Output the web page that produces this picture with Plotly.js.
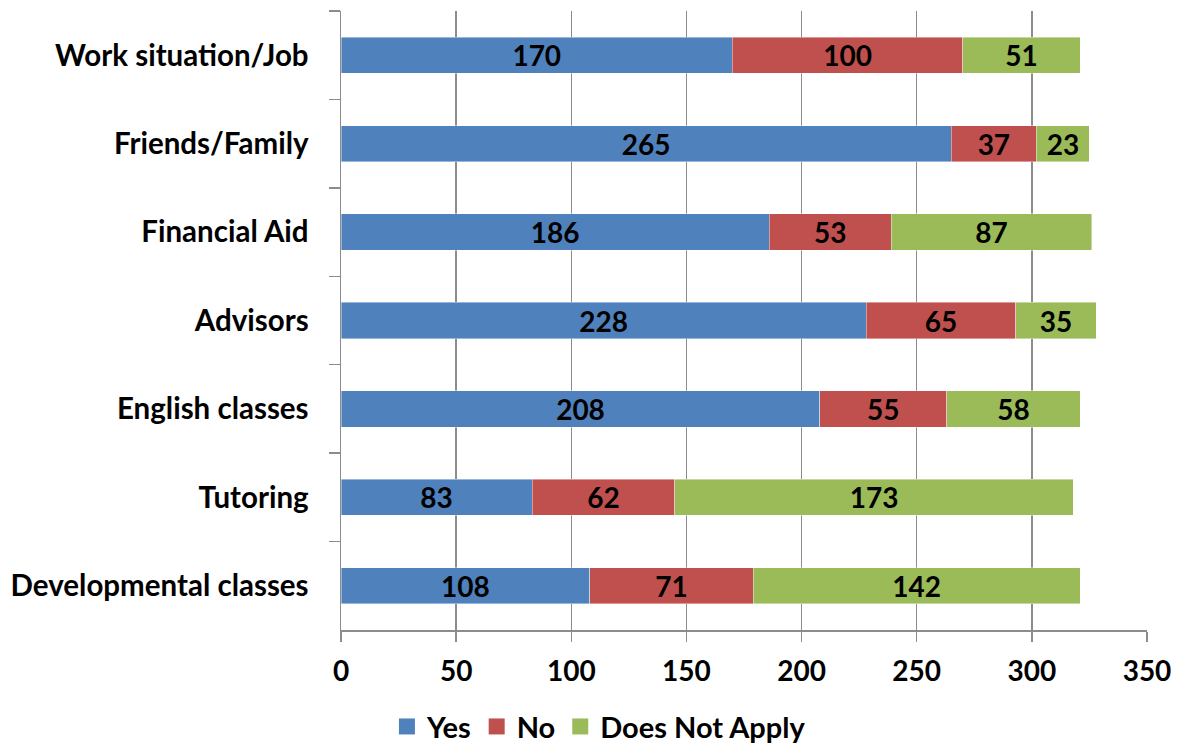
<!DOCTYPE html>
<html>
<head>
<meta charset="utf-8">
<script src="https://cdn.plot.ly/plotly-3.0.1.min.js"></script>
<style>html,body{margin:0;padding:0;background:#fff;}#chart{width:1179px;height:746px;}</style>
</head>
<body>
<div id="chart"></div>
<script>
var categories = ["Work situation/Job", "Friends/Family", "Financial Aid", "Advisors", "English classes", "Tutoring", "Developmental classes"];
var yesValues = [170, 265, 186, 228, 208, 83, 108];
var noValues = [100, 37, 53, 65, 55, 62, 71];
var naValues = [51, 23, 87, 35, 58, 173, 142];
var seriesNames = ["Yes", "No", "Does Not Apply"];
var seriesColors = ["#4F81BD", "#C0504D", "#9BBB59"];
var xTicks = [0, 50, 100, 150, 200, 250, 300, 350];

var FONT = "Lato, 'Open Sans', sans-serif";
var seriesValues = [yesValues, noValues, naValues];
var traces = seriesValues.map(function (vals, i) {
  return {
    type: "bar",
    orientation: "h",
    name: seriesNames[i],
    legendgroup: seriesNames[i],
    showlegend: false,
    y: categories,
    x: vals,
    text: vals.map(String),
    textposition: "inside",
    insidetextanchor: "middle",
    textangle: 0,
    constraintext: "none",
    textfont: { family: FONT, size: 28, color: "#000", weight: "bold" },
    marker: { color: seriesColors[i], line: { width: 0.6, color: "rgba(255,255,255,0.7)" } },
    hoverinfo: "x+y+name"
  };
});
seriesNames.forEach(function (nm, i) {
  traces.push({
    type: "scatter",
    mode: "markers",
    name: nm,
    legendgroup: nm,
    x: [null],
    y: [null],
    marker: { symbol: "square", size: 18, color: seriesColors[i] },
    showlegend: true,
    hoverinfo: "skip"
  });
});

var layout = {
  width: 1179,
  height: 746,
  barmode: "stack",
  bargap: 0.59,
  margin: { l: 341, r: 32, t: 11, b: 116 },
  paper_bgcolor: "#fff",
  plot_bgcolor: "#fff",
  font: { family: FONT, color: "#000", size: 29, weight: "bold" },
  xaxis: {
    range: [0, 350],
    tickvals: xTicks,
    ticktext: xTicks.map(String),
    showgrid: true,
    gridcolor: "#8c8c8c",
    gridwidth: 1.5,
    zeroline: false,
    showline: true,
    linecolor: "#8c8c8c",
    linewidth: 1.5,
    ticks: "outside",
    ticklen: 10,
    tickwidth: 1.5,
    tickcolor: "#8c8c8c",
    ticklabelstandoff: 6,
    tickfont: { family: FONT, size: 28, color: "#000", weight: "bold" },
    fixedrange: true
  },
  yaxis: {
    type: "category",
    autorange: "reversed",
    showgrid: false,
    zeroline: false,
    showline: true,
    linecolor: "#8c8c8c",
    linewidth: 1.5,
    ticks: "outside",
    tickson: "boundaries",
    ticklen: 11,
    tickwidth: 1.5,
    tickcolor: "#8c8c8c",
    ticklabelstandoff: 25,
    tickfont: { family: FONT, size: 29.5, color: "#000", weight: "bold" },
    fixedrange: true
  },
  showlegend: true,
  legend: {
    orientation: "h",
    xref: "container",
    yref: "container",
    x: 0.508,
    xanchor: "center",
    y: 0.026,
    yanchor: "middle",
    font: { family: FONT, size: 29, color: "#000", weight: "bold" },
    itemwidth: 30,
    traceorder: "normal",
    bgcolor: "rgba(0,0,0,0)"
  }
};

Plotly.newPlot("chart", traces, layout, { displayModeBar: false, staticPlot: true });
</script>
</body>
</html>
